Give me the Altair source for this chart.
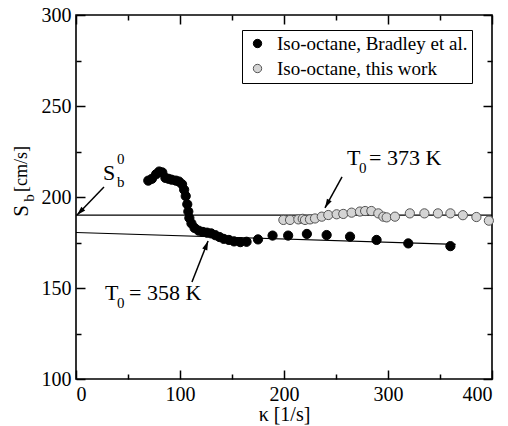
import math
import pandas as pd
import altair as alt

# Iso-octane, Bradley et al. (filled black circles)
bradley_k = [69.5, 73, 77, 80, 83, 86, 89, 92, 96, 99, 102, 104, 105.5, 107, 108,
             109, 111, 114, 118, 122, 126, 130, 134, 138, 142, 147, 152, 158, 164,
             175, 189, 204, 222, 241, 263.5, 289, 319.5, 360]
bradley_s = [209, 210, 212.5, 214, 213.5, 210.5, 210, 209.5, 209, 208.5, 207, 204,
             200.5, 196, 192, 188.5, 185.5, 183, 181.5, 180.8, 180.4, 180, 179, 178,
             177, 176.4, 175.6, 175.2, 175.4, 176.7, 178.8, 178.8, 179.7, 179.1,
             178.2, 176.4, 174.5, 173]

# Iso-octane, this work (light grey circles)
work_k = [199.4, 205.8, 213.8, 218, 220.2, 225, 229.8, 236.3, 242.6, 250.6, 257,
          265, 273, 278, 284, 290.7, 295.5, 298.7, 306.7, 321, 335, 348, 360, 372,
          385, 397]
work_s = [187.4, 187.4, 187.7, 188, 187.4, 187.7, 188.2, 189.2, 190.1, 190.5, 190.7,
          191.4, 192, 192.3, 192.3, 191, 189.2, 188.8, 189.2, 191, 191, 191, 191,
          190, 189, 187]

series_names = ["Iso-octane, Bradley et al.", "Iso-octane, this work"]

# Unstretched burning speeds: S_b^0 at T0 = 373 K and the fit at T0 = 358 K
line_name = ["373 K", "373 K", "358 K", "358 K"]
line_k = [0, 400, 0, 365]
line_s = [190, 190, 180.5, 174]

# Annotation arrows (tail -> tip)
arrow_tail_k = [26.9, 255.8, 111.5]
arrow_tail_s = [205.5, 211.0, 153.3]
arrow_tip_k = [1.0, 239.4, 127.0]
arrow_tip_s = [190.1, 194.0, 175.8]

W, H = 416, 364
X_DOM = [0, 400]
Y_DOM = [100, 300]
SERIF = "Liberation Serif"

points = pd.DataFrame({
    "k": bradley_k + work_k,
    "S": bradley_s + work_s,
    "series": [series_names[0]] * len(bradley_k) + [series_names[1]] * len(work_k),
})
lines = pd.DataFrame({"k": line_k, "S": line_s, "line": line_name})

# arrowhead rotation in screen space
sx = W / (X_DOM[1] - X_DOM[0])
sy = H / (Y_DOM[1] - Y_DOM[0])
angles = []
for tk, ts, hk, hs in zip(arrow_tail_k, arrow_tail_s, arrow_tip_k, arrow_tip_s):
    dx = (hk - tk) * sx
    dy = -(hs - ts) * sy
    angles.append(math.degrees(math.atan2(dx, -dy)) % 360)
arrows = pd.DataFrame({"k": arrow_tail_k, "S": arrow_tail_s,
                       "k2": arrow_tip_k, "S2": arrow_tip_s, "ang": angles})

xs = alt.Scale(domain=X_DOM, nice=False, zero=False)
ys = alt.Scale(domain=Y_DOM, nice=False, zero=False)


def tick_axis(orient, values, size):
    return alt.Axis(orient=orient, values=values, tickSize=size, offset=-size,
                    labels=False, domain=False, title=None, grid=False,
                    tickColor="black", tickWidth=1.5)


label_x_axis = alt.Axis(orient="bottom", values=[0, 100, 200, 300, 400], ticks=False,
                        domain=False, grid=False, labelPadding=5, title="κ [1/s]",
                        titleFont=SERIF, titleFontSize=20, titleFontWeight="normal",
                        titleColor="black", titlePadding=0, labelFont=SERIF,
                        labelFontSize=20, labelColor="black")
label_y_axis = alt.Axis(orient="left", values=[100, 150, 200, 250, 300], ticks=False,
                        domain=False, grid=False, labelPadding=5, title=None,
                        labelFont=SERIF, labelFontSize=20, labelColor="black")

# straight reference lines (carry the labelled axes)
ref_lines = alt.Chart(lines).mark_line(color="black", strokeWidth=1.2).encode(
    x=alt.X("k:Q", scale=xs, axis=label_x_axis),
    y=alt.Y("S:Q", scale=ys, axis=label_y_axis),
    detail="line:N",
)

# arrow shafts (carry inward major ticks, bottom/left)
shafts = alt.Chart(arrows).mark_rule(color="black", strokeWidth=1.5).encode(
    x=alt.X("k:Q", scale=xs, axis=tick_axis("bottom", [0, 100, 200, 300, 400], 9)),
    y=alt.Y("S:Q", scale=ys, axis=tick_axis("left", [100, 150, 200, 250, 300], 9)),
    x2="k2:Q",
    y2="S2:Q",
)

# arrow heads (carry inward minor ticks, bottom/left)
heads = alt.Chart(arrows).mark_point(
    shape="M0,0 L0.3,1 L-0.3,1 Z", filled=True, color="black", opacity=1, size=324
).encode(
    x=alt.X("k2:Q", scale=xs, axis=tick_axis("bottom", [50, 150, 250, 350], 5)),
    y=alt.Y("S2:Q", scale=ys, axis=tick_axis("left", [125, 175, 225, 275], 5)),
    angle=alt.Angle("ang:Q", scale=None),
)

# measured points (carry mirrored major ticks, top/right)
dots = alt.Chart(points).mark_point(filled=True, opacity=1, size=85, strokeWidth=1).encode(
    x=alt.X("k:Q", scale=xs, axis=tick_axis("top", [0, 100, 200, 300, 400], 9)),
    y=alt.Y("S:Q", scale=ys, axis=tick_axis("right", [100, 150, 200, 250, 300], 9)),
    fill=alt.Fill("series:N",
                  scale=alt.Scale(domain=series_names, range=["black", "#d4d4d4"]),
                  legend=alt.Legend(orient="none", legendX=166, legendY=15, title=None,
                                    padding=4, strokeColor="black", fillColor="white",
                                    labelFont=SERIF, labelFontSize=19, labelColor="black",
                                    labelLimit=400, symbolSize=70, symbolType="circle",
                                    symbolOffset=2, rowPadding=5, labelOffset=10,
                                    symbolStrokeWidth=1)),
    stroke=alt.Stroke("series:N",
                      scale=alt.Scale(domain=series_names, range=["black", "#555555"]),
                      legend=None),
)

# invisible copy of the lines (carries mirrored minor ticks, top/right)
minor_top = alt.Chart(lines).mark_point(opacity=0).encode(
    x=alt.X("k:Q", scale=xs, axis=tick_axis("top", [50, 150, 250, 350], 5)),
    y=alt.Y("S:Q", scale=ys, axis=tick_axis("right", [125, 175, 225, 275], 5)),
)


def label(text, x, y, size, align="left", baseline="alphabetic", angle=0):
    return alt.Chart(pd.DataFrame({"t": [text]})).mark_text(
        font=SERIF, fontSize=size, color="black", align=align, baseline=baseline,
        angle=angle,
    ).encode(x=alt.value(x), y=alt.value(y), text="t:N")


texts = [
    # S_b^0
    label("S", 27, 165, 22),
    label("0", 41, 149, 15),
    label("b", 41, 172, 15),
    # T0 = 373 K
    label("T", 271, 150, 22),
    label("0", 283, 158, 15),
    label("= 373 K", 293, 150, 22),
    # T0 = 358 K
    label("T", 29, 285, 22),
    label("0", 41, 293, 15),
    label("= 358 K", 53, 285, 22),
    # y-axis title S_b [cm/s]
    label("S", -54, 196, 21, align="center", baseline="middle", angle=270),
    label("b", -47, 183, 15, align="center", baseline="middle", angle=270),
    label("[cm/s]", -54, 154, 18, align="center", baseline="middle", angle=270),
]

chart = alt.layer(ref_lines, shafts, heads, dots, minor_top, *texts).resolve_axis(
    x="independent", y="independent"
).properties(
    width=W,
    height=H,
    padding={"left": 76, "top": 15, "right": 16, "bottom": 47},
    autosize=alt.AutoSizeParams(type="none"),
).configure(
    background="white", font=SERIF
).configure_axis(
    labelFont=SERIF, titleFont=SERIF
).configure_legend(
    labelFont=SERIF
).configure_view(
    stroke="black", strokeWidth=1.6
)

chart.save("out.html", embed_options={"renderer": "svg", "actions": False})
